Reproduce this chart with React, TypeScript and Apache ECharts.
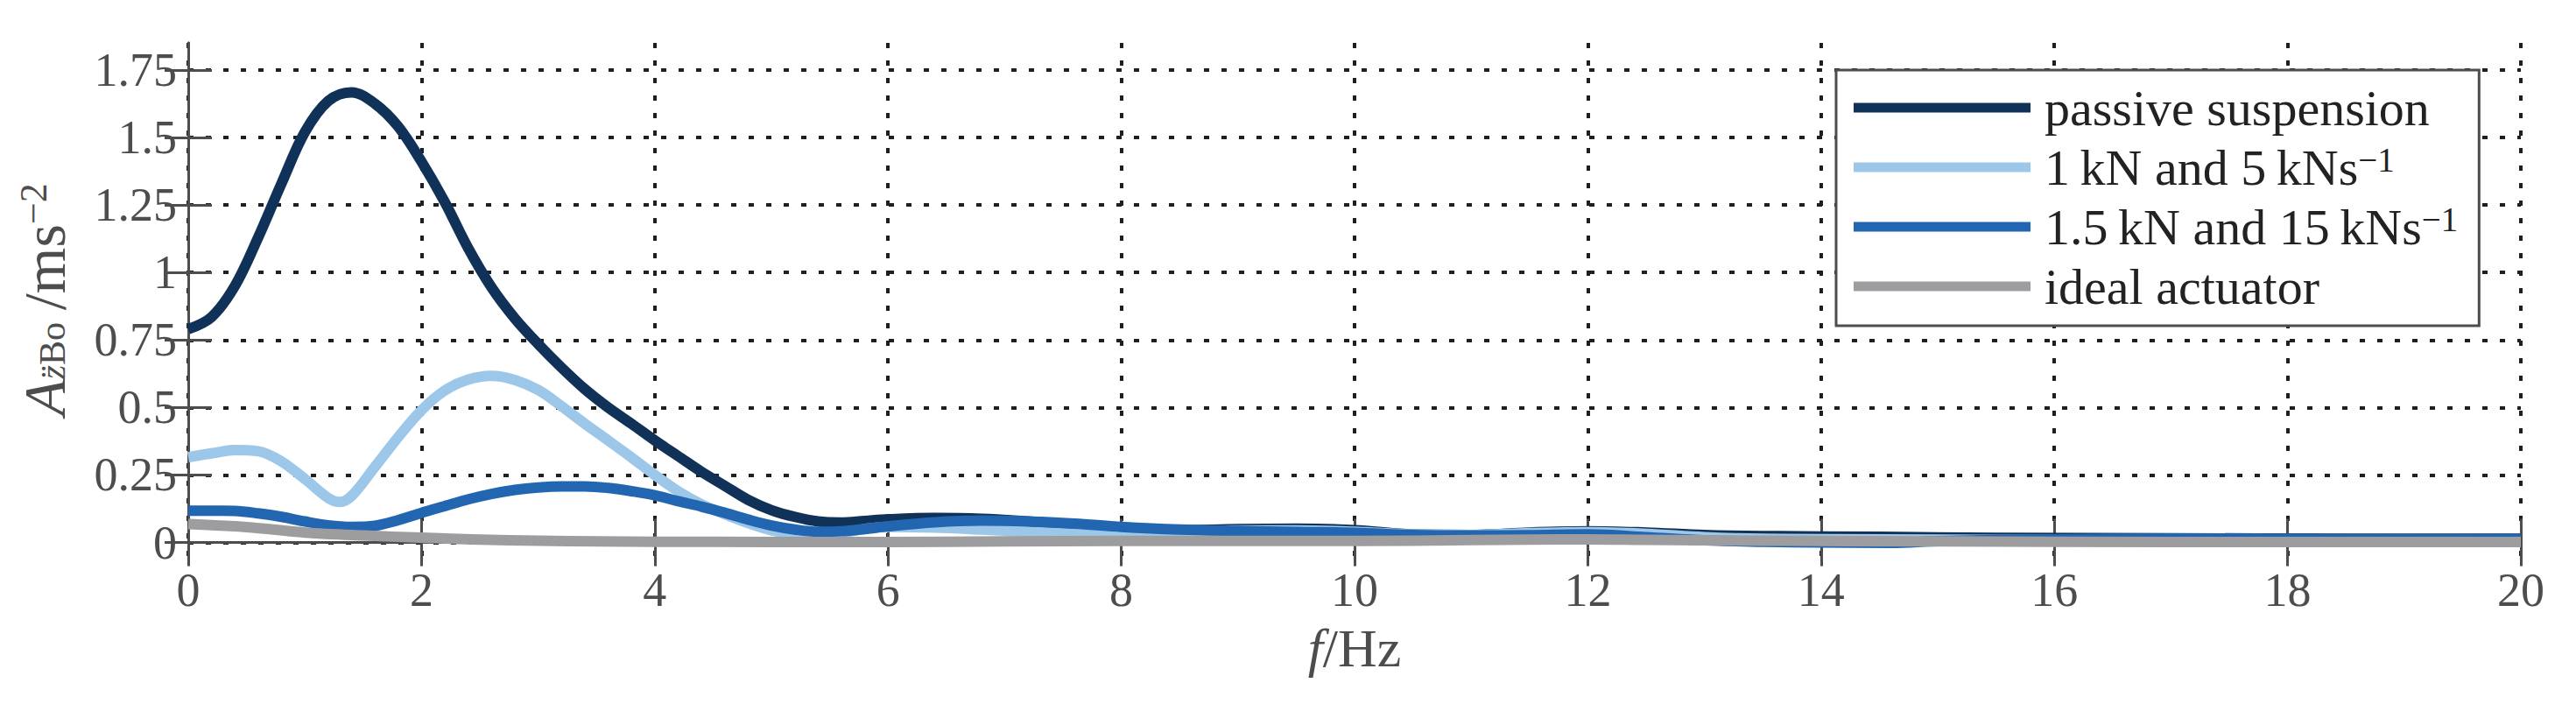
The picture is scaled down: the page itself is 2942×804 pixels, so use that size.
import React, { useEffect, useRef } from "react";
import * as echarts from "echarts";

// ---- data ----
const xTicks = [0, 2, 4, 6, 8, 10, 12, 14, 16, 18, 20];
const yTicks = [0, 0.25, 0.5, 0.75, 1, 1.25, 1.5, 1.75];

const seriesNames = [
  "passive suspension",
  "1 kN and 5 kNs-1",
  "1.5 kN and 15 kNs-1",
  "ideal actuator",
];

const passive: number[][] = [
  [0, 0.79], [0.2, 0.835], [0.4, 0.95], [0.6, 1.13], [0.8, 1.33], [1.0, 1.52], [1.2, 1.635], [1.4, 1.667],
  [1.6, 1.625], [1.8, 1.54], [2.0, 1.41], [2.2, 1.26], [2.4, 1.09], [2.6, 0.945], [2.8, 0.83], [3.0, 0.735],
  [3.2, 0.648], [3.4, 0.568], [3.6, 0.5], [3.8, 0.44], [4.0, 0.378], [4.2, 0.32], [4.4, 0.262], [4.6, 0.21],
  [4.8, 0.158], [5.0, 0.12], [5.2, 0.095], [5.4, 0.078], [5.6, 0.074], [5.8, 0.08], [6.0, 0.086], [6.4, 0.091],
  [6.8, 0.088], [7.2, 0.078], [7.6, 0.066], [8.0, 0.05], [8.5, 0.045], [9.0, 0.05], [9.5, 0.051], [10.0, 0.046],
  [10.5, 0.03], [11.0, 0.028], [11.5, 0.037], [12.0, 0.042], [12.5, 0.037], [13.0, 0.028], [13.5, 0.024],
  [14.5, 0.021], [15.5, 0.017], [17.0, 0.016], [18.5, 0.014], [20.0, 0.014],
];

const act1: number[][] = [
  [0, 0.316], [0.2, 0.33], [0.4, 0.342], [0.6, 0.338], [0.8, 0.3], [1.0, 0.235], [1.2, 0.165], [1.3, 0.15],
  [1.4, 0.172], [1.6, 0.28], [1.8, 0.39], [2.0, 0.49], [2.2, 0.563], [2.4, 0.603], [2.6, 0.617], [2.8, 0.602],
  [3.0, 0.565], [3.2, 0.505], [3.4, 0.44], [3.6, 0.378], [3.8, 0.315], [4.0, 0.25], [4.2, 0.19], [4.4, 0.142],
  [4.6, 0.105], [4.8, 0.072], [5.0, 0.045], [5.2, 0.03], [5.4, 0.027], [5.6, 0.035], [5.8, 0.05], [6.0, 0.058],
  [6.4, 0.055], [6.8, 0.048], [7.2, 0.04], [7.6, 0.033], [8.0, 0.035], [8.5, 0.04], [9.0, 0.045], [9.5, 0.045],
  [10.0, 0.04], [10.5, 0.03], [11.0, 0.028], [11.5, 0.035], [12.0, 0.038], [12.5, 0.032], [13.0, 0.02],
  [13.5, 0.014], [14.5, 0.012], [15.5, 0.01], [17.0, 0.01], [18.5, 0.01], [20.0, 0.01],
];

const act2: number[][] = [
  [0, 0.118], [0.2, 0.118], [0.4, 0.117], [0.6, 0.108], [0.8, 0.095], [1.0, 0.078], [1.2, 0.064], [1.4, 0.058],
  [1.6, 0.062], [1.8, 0.083], [2.0, 0.11], [2.2, 0.135], [2.4, 0.16], [2.6, 0.18], [2.8, 0.195], [3.0, 0.204],
  [3.2, 0.208], [3.4, 0.208], [3.6, 0.202], [3.8, 0.19], [4.0, 0.175], [4.2, 0.153], [4.4, 0.133], [4.6, 0.11],
  [4.8, 0.085], [5.0, 0.063], [5.2, 0.048], [5.4, 0.04], [5.6, 0.042], [5.8, 0.05], [6.0, 0.06], [6.4, 0.075],
  [6.8, 0.081], [7.2, 0.078], [7.6, 0.07], [8.0, 0.058], [8.5, 0.048], [9.0, 0.043], [9.5, 0.039], [10.0, 0.036],
  [10.5, 0.028], [11.0, 0.026], [11.5, 0.027], [12.0, 0.03], [12.5, 0.02], [13.0, 0.008], [13.5, 0.003],
  [14.0, 0.0], [14.6, -0.001], [15.0, 0.005], [16.0, 0.012], [17.0, 0.015], [18.0, 0.014], [19.0, 0.012],
  [20.0, 0.014],
];

const ideal: number[][] = [
  [0, 0.068], [0.5, 0.057], [1.0, 0.037], [1.5, 0.026], [2.0, 0.018], [2.5, 0.011], [3.0, 0.007], [3.5, 0.004],
  [4.0, 0.003], [5.0, 0.002], [6.0, 0.002], [7.0, 0.004], [8.0, 0.006], [9.0, 0.006], [10.0, 0.006],
  [11.0, 0.009], [12.0, 0.012], [12.5, 0.01], [13.5, 0.007], [15.0, 0.004], [17.0, 0.002], [20.0, 0.002],
];

const seriesData = [passive, act1, act2, ideal];
const seriesColors = ["#103258", "#9dc7e9", "#2266b1", "#9d9d9f"];

const FONT = "'Liberation Serif', 'DejaVu Serif', serif";
const AXIS_GRAY = "#4d4d4d";

export default function App() {
  const ref = useRef<HTMLDivElement>(null);

  useEffect(() => {
    if (!ref.current) return;
    const chart = echarts.init(ref.current, undefined, { renderer: "svg" });

    const axisLine = { show: true, lineStyle: { color: AXIS_GRAY, width: 3 } };
    const axisTick = { show: true, inside: true, length: 27, lineStyle: { color: AXIS_GRAY, width: 3 } };
    const splitLine = {
      show: true,
      lineStyle: { color: "#1f1f1f", width: 4, type: [6, 14] as number[] },
    };

    const legendText: Record<string, string> = {
      [seriesNames[0]]: "{t|passive suspension}",
      [seriesNames[1]]: "{t|1\u2009kN and 5\u2009kNs}{sup|\u22121}",
      [seriesNames[2]]: "{t|1.5\u2009kN and 15\u2009kNs}{sup|\u22121}",
      [seriesNames[3]]: "{t|ideal actuator}",
    };

    const option: any = {
      animation: false,
      backgroundColor: "#ffffff",
      grid: { left: 215, right: 63, top: 49, bottom: 169, containLabel: false },
      legend: {
        show: true,
        orient: "vertical",
        left: 2097,
        top: 80,
        icon: "rect",
        itemWidth: 202,
        itemHeight: 11,
        itemGap: 10,
        padding: [14, 24, 16, 20],
        backgroundColor: "#ffffff",
        borderColor: AXIS_GRAY,
        borderWidth: 3,
        borderRadius: 0,
        data: seriesNames,
        formatter: (name: string) => legendText[name],
        textStyle: {
          fontFamily: FONT,
          fontSize: 58,
          color: "#222222",
          padding: [0, 0, 0, 11],
          rich: {
            t: { fontFamily: FONT, fontSize: 58, lineHeight: 57, color: "#222222" },
            sup: { fontFamily: FONT, fontSize: 39, lineHeight: 28, verticalAlign: "top", color: "#222222" },
          },
        },
      },
      xAxis: [
        {
          type: "value",
          position: "bottom",
          min: 0,
          max: 20,
          interval: 2,
          axisLine,
          axisTick,
          splitLine,
          axisLabel: {
            show: true,
            margin: 12,
            fontFamily: FONT,
            fontSize: 54,
            color: AXIS_GRAY,
            customValues: xTicks,
          },
          name: "{f|f}{n|/Hz}",
          nameLocation: "middle",
          nameGap: 75,
          nameTextStyle: {
            rich: {
              f: { fontFamily: FONT, fontSize: 62, lineHeight: 60, fontStyle: "italic", color: AXIS_GRAY },
              n: { fontFamily: FONT, fontSize: 62, lineHeight: 60, color: AXIS_GRAY },
            },
          },
        },
        {
          type: "value",
          position: "top",
          min: 0,
          max: 20,
          interval: 2,
          axisLine,
          axisTick,
          splitLine: { show: false },
          axisLabel: { show: false },
        },
      ],
      yAxis: [
        {
          type: "value",
          position: "left",
          min: -0.05,
          max: 1.85,
          axisLine,
          axisTick: { ...axisTick, customValues: yTicks },
          splitLine,
          axisLabel: {
            show: true,
            margin: 13,
            fontFamily: FONT,
            fontSize: 54,
            color: AXIS_GRAY,
            customValues: yTicks,
            formatter: (v: number) => String(v),
          },
          name: "{A|A}{sub|z\u0308}{subB|Bo}{n|\u2009/ms}{sup|\u22122}",
          nameLocation: "middle",
          nameRotate: 90,
          nameGap: 108,
          nameTextStyle: {
            rich: {
              A: {
                fontFamily: FONT, fontSize: 68, lineHeight: 64, fontStyle: "italic",
                verticalAlign: "top", padding: [0, 0, 12, 0], color: AXIS_GRAY,
              },
              sub: {
                fontFamily: FONT, fontSize: 42, lineHeight: 40, fontStyle: "italic",
                verticalAlign: "bottom", color: AXIS_GRAY,
              },
              subB: {
                fontFamily: FONT, fontSize: 42, lineHeight: 40,
                verticalAlign: "bottom", color: AXIS_GRAY,
              },
              n: { fontFamily: FONT, fontSize: 68, lineHeight: 64, verticalAlign: "top", color: AXIS_GRAY },
              sup: { fontFamily: FONT, fontSize: 44, lineHeight: 30, verticalAlign: "top", color: AXIS_GRAY },
            },
          },
        },
        {
          type: "value",
          position: "right",
          min: -0.05,
          max: 1.85,
          axisLine,
          axisTick: { ...axisTick, customValues: yTicks },
          splitLine: { show: false },
          axisLabel: { show: false, customValues: yTicks },
        },
      ],
      series: seriesData.map((d, i) => ({
        name: seriesNames[i],
        type: "line",
        xAxisIndex: 0,
        yAxisIndex: 0,
        data: d,
        smooth: 0.35,
        showSymbol: false,
        symbol: "none",
        color: seriesColors[i],
        itemStyle: { color: seriesColors[i] },
        lineStyle: { color: seriesColors[i], width: 12, cap: "butt", join: "round" },
        emphasis: { disabled: true },
        z: 2 + i,
      })),
    };

    chart.setOption(option);
    return () => chart.dispose();
  }, []);

  return (
    <div
      ref={ref}
      style={{ position: "absolute", left: 0, top: 0, width: 2942, height: 804, background: "#fff" }}
    />
  );
}
